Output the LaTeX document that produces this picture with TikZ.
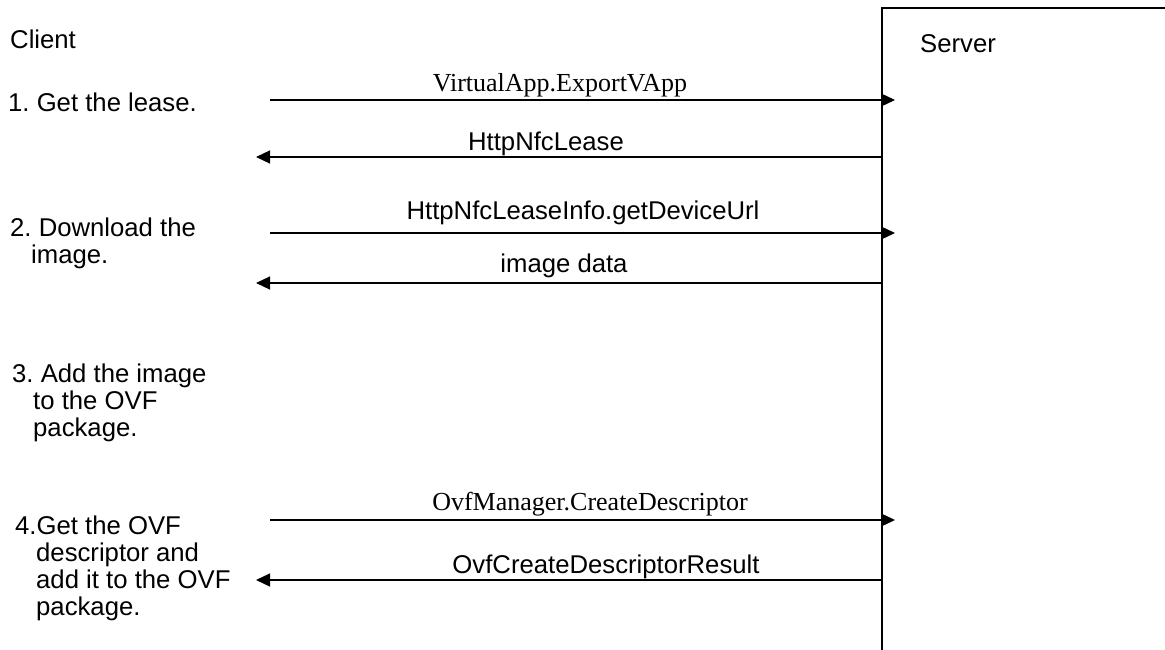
\documentclass[tikz,border=0pt]{standalone}
\usepackage{fontspec}
\setmainfont{Liberation Serif}
\newfontfamily\arialf{Liberation Sans}
\usetikzlibrary{arrows.meta}
\frenchspacing
\begin{document}
\begin{tikzpicture}[x=1pt,y=-1pt,
  lbl/.style={inner sep=0pt,anchor=base,font=\arialf\fontsize{25.7}{27}\selectfont},
  tlbl/.style={inner sep=0pt,anchor=base,font=\fontsize{26}{27}\selectfont},
  steptext/.style={inner sep=0pt,anchor=base west,align=left,font=\arialf\fontsize{25.7}{27}\selectfont},
  msg/.style={line width=1.2pt,-{Triangle[length=14pt,width=13pt]}},
  lifeline/.style={line width=1.2pt}]
\useasboundingbox (0,0) rectangle (1165,650);
% server box
\coordinate (sbot) at (882,650);
\coordinate (stop) at (882,8);
\coordinate (sright) at (1165,8);
\draw[lifeline] (sbot) -- (stop) -- (sright);
\node[steptext] (server) at (920,53) {Server};
\node[steptext] (client) at (10,49) {Client};
% steps (anchor = baseline of last line)
\node[steptext] (st1) at (8,112) {1. Get the lease.};
\node[steptext] (st2) at (10,263) {2. Download the\\\hspace*{21pt}image.};
\node[steptext] (st3) at (12,436) {3. Add the image\\\hspace*{21pt}to the OVF\\\hspace*{21pt}package.};
\node[steptext] (st4) at (15,615) {4.Get the OVF\\\hspace*{21pt}descriptor and\\\hspace*{21pt}add it to the OVF\\\hspace*{21pt}package.};
% endpoints
\coordinate (c1) at (270,100); \coordinate (s1) at (895,100);
\coordinate (s2) at (882,157); \coordinate (c2) at (256,157);
\coordinate (c3) at (270,233); \coordinate (s3) at (895,233);
\coordinate (s4) at (882,283); \coordinate (c4) at (256,283);
\coordinate (c5) at (270,520); \coordinate (s5) at (895,520);
\coordinate (s6) at (882,580); \coordinate (c6) at (256,580);
\draw[msg] (c1) -- (s1);
\draw[msg] (s2) -- (c2);
\draw[msg] (c3) -- (s3);
\draw[msg] (s4) -- (c4);
\draw[msg] (c5) -- (s5);
\draw[msg] (s6) -- (c6);
% labels
\node[tlbl] (m1) at (560,92) {VirtualApp.ExportVApp};
\node[lbl] (m2) at (546,150) {HttpNfcLease};
\node[lbl] (m3) at (583,219) {HttpNfcLeaseInfo.getDeviceUrl};
\node[lbl] (m4) at (564,272) {image data};
\node[tlbl] (m5) at (590,510) {OvfManager.CreateDescriptor};
\node[lbl] (m6) at (606,573) {OvfCreateDescriptorResult};
\end{tikzpicture}
\end{document}
